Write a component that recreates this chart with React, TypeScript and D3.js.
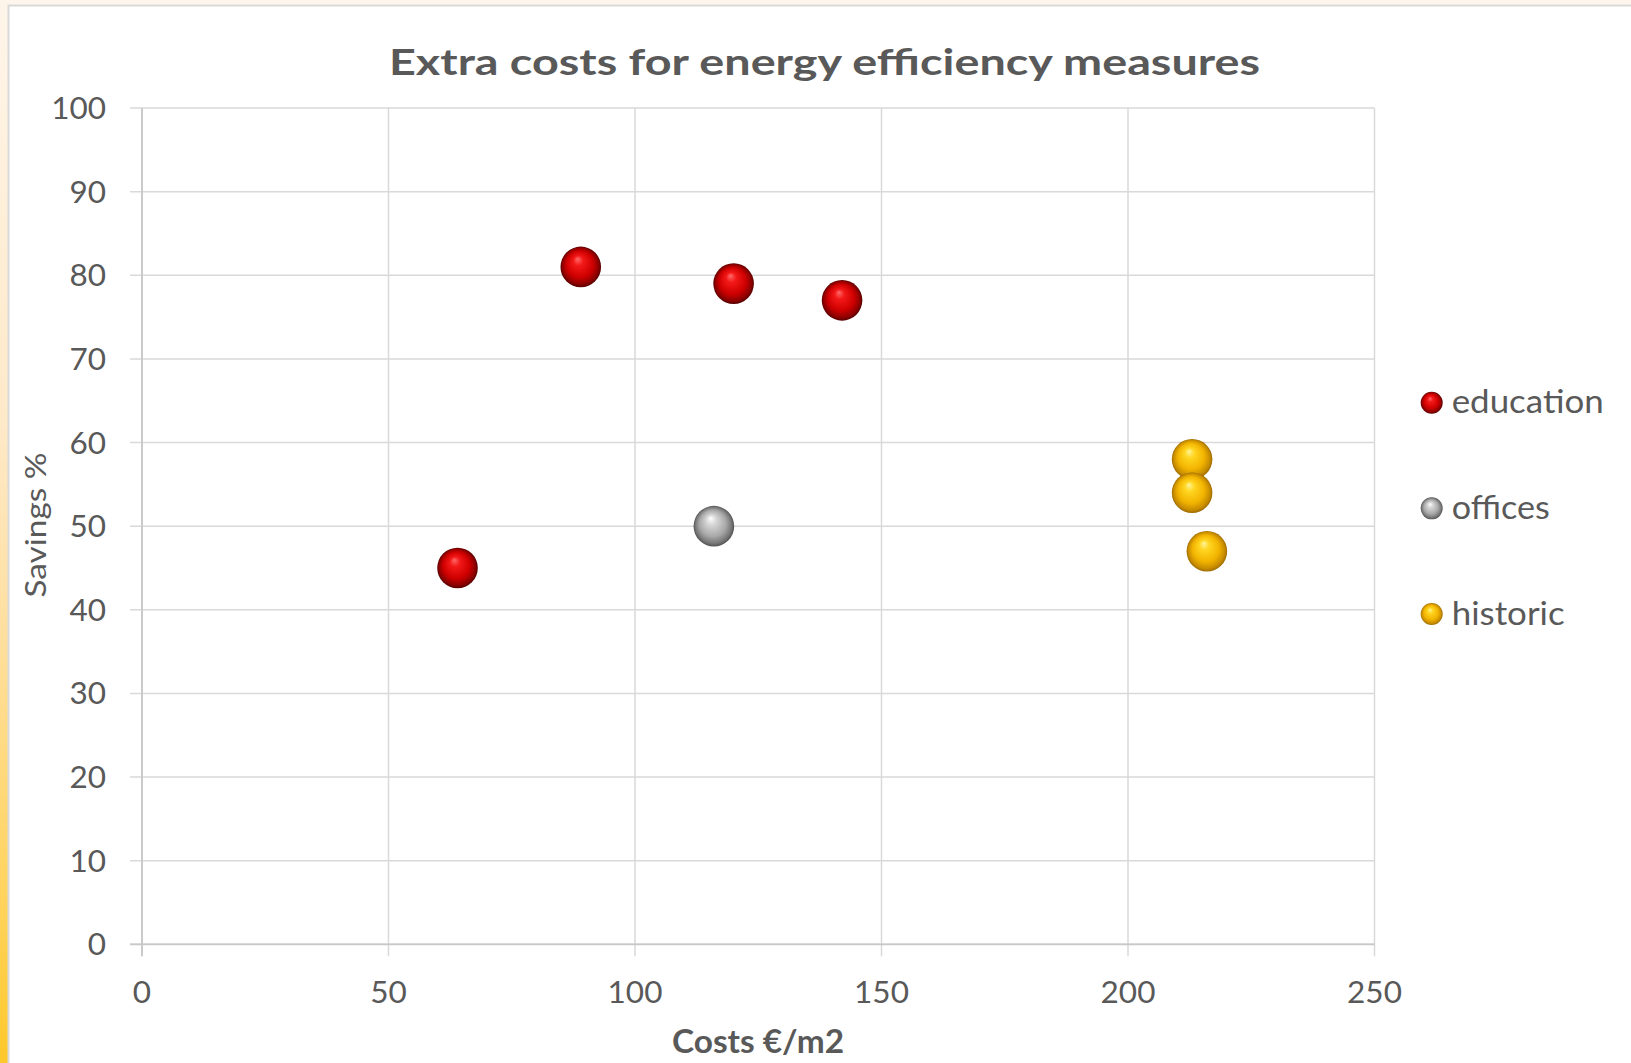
import React from "react";
import * as d3 from "d3";

// Series values: cost per square metre (€/m2) and energy savings (%)
const seriesNames = ["education", "offices", "historic"];
const educationCost = [64, 89, 120, 142];
const educationSavings = [45, 81, 79, 77];
const officesCost = [116];
const officesSavings = [50];
const historicCost = [213, 213, 216];
const historicSavings = [58, 54, 47];

const xTicks = [0, 50, 100, 150, 200, 250];
const yTicks = [0, 10, 20, 30, 40, 50, 60, 70, 80, 90, 100];

const chartTitle = "Extra costs for energy efficiency measures";
const xTitle = "Costs €/m2";
const yTitle = "Savings %";

const W = 1631;
const H = 1063;
const plot = { left: 142, right: 1374.5, top: 108, bottom: 944.3 };

const sphereColors: Record<string, string[]> = {
  education: ["#ff6a6a", "#f31818", "#cf0000", "#8a0000", "#580000"],
  offices: ["#ffffff", "#d6d6d6", "#a8a8a8", "#747474", "#525252"],
  historic: ["#fff59a", "#ffd520", "#f2b400", "#c68b00", "#9c6a00"],
};

const series = [
  { name: seriesNames[0], xs: educationCost, ys: educationSavings },
  { name: seriesNames[1], xs: officesCost, ys: officesSavings },
  { name: seriesNames[2], xs: historicCost, ys: historicSavings },
];

const legendWidths: Record<string, number> = { education: 152, offices: 98, historic: 113 };

export default function App() {
  const x = d3.scaleLinear().domain([0, 250]).range([plot.left, plot.right]);
  const y = d3.scaleLinear().domain([0, 100]).range([plot.bottom, plot.top]);
  const legendY = d3.scalePoint<string>().domain(seriesNames).range([402.7, 614]);
  const font = "Lato, 'Open Sans', sans-serif";
  const grid = "#d9d9d9";
  const text = "#595959";

  return (
    <svg
      width={W}
      height={H}
      style={{ position: "absolute", left: 0, top: 0, display: "block" }}
      fontFamily={font}
    >
      <defs>
        <linearGradient id="edgeGlow" x1="0" y1="0" x2="0" y2="1">
          <stop offset="0" stopColor="#fef5ea" />
          <stop offset="0.4" stopColor="#fee9c8" />
          <stop offset="0.6" stopColor="#ffdf9e" />
          <stop offset="0.85" stopColor="#ffd35c" />
          <stop offset="1" stopColor="#ffc82a" />
        </linearGradient>
        {seriesNames.map((n) => (
          <radialGradient key={n} id={`sphere-${n}`} cx="0.5" cy="0.5" r="0.5" fx="0.42" fy="0.3">
            <stop offset="0" stopColor={sphereColors[n][0]} />
            <stop offset="0.25" stopColor={sphereColors[n][1]} />
            <stop offset="0.65" stopColor={sphereColors[n][2]} />
            <stop offset="0.9" stopColor={sphereColors[n][3]} />
            <stop offset="1" stopColor={sphereColors[n][4]} />
          </radialGradient>
        ))}
      </defs>

      {/* page background and chart frame */}
      <rect x={0} y={0} width={W} height={H} fill="#ffffff" />
      <rect x={0} y={0} width={W} height={5} fill="#fef6ec" />
      <rect x={0} y={0} width={8} height={H} fill="url(#edgeGlow)" />
      <rect x={8.5} y={5.5} width={W + 10} height={H + 10} fill="#ffffff" stroke="#d9d9d9" strokeWidth={2} />

      {/* title */}
      <text
        x={824.5}
        y={75}
        textAnchor="middle"
        fontSize={37}
        fontWeight={700}
        fill={text}
        textLength={871}
        lengthAdjust="spacingAndGlyphs"
      >
        {chartTitle}
      </text>

      {/* gridlines */}
      {yTicks.map((t) => (
        <line key={`gy${t}`} x1={plot.left - 12} x2={plot.right} y1={y(t)} y2={y(t)} stroke={grid} strokeWidth={1.5} />
      ))}
      {xTicks.map((t) => (
        <line key={`gx${t}`} x1={x(t)} x2={x(t)} y1={plot.top} y2={plot.bottom + 12} stroke={grid} strokeWidth={1.5} />
      ))}
      <line x1={plot.left - 12} x2={plot.right} y1={y(0)} y2={y(0)} stroke="#c8c8c8" strokeWidth={1.8} />
      <line x1={x(0)} x2={x(0)} y1={plot.top} y2={plot.bottom + 12} stroke="#c8c8c8" strokeWidth={1.8} />

      {/* tick labels */}
      {yTicks.map((t) => (
        <text key={`ly${t}`} x={106} y={y(t) + 11} textAnchor="end" fontSize={31.5} fill={text}>
          {t}
        </text>
      ))}
      {xTicks.map((t) => (
        <text key={`lx${t}`} x={x(t)} y={1003} textAnchor="middle" fontSize={31.5} fill={text}>
          {t}
        </text>
      ))}

      {/* axis titles */}
      <text
        x={758}
        y={1053}
        textAnchor="middle"
        fontSize={33}
        fontWeight={700}
        fill={text}
        textLength={172}
        lengthAdjust="spacingAndGlyphs"
      >
        {xTitle}
      </text>
      <text
        transform="translate(46,525) rotate(-90)"
        textAnchor="middle"
        fontSize={28}
        fill={text}
        textLength={145}
        lengthAdjust="spacingAndGlyphs"
      >
        {yTitle}
      </text>

      {/* data spheres */}
      {series.map((s) =>
        s.xs.map((c, i) => (
          <circle
            key={`${s.name}${i}`}
            cx={x(c)}
            cy={y(s.ys[i])}
            r={20.3}
            fill={`url(#sphere-${s.name})`}
          />
        ))
      )}

      {/* legend */}
      {seriesNames.map((n) => (
        <g key={`lg${n}`}>
          <circle cx={1431.7} cy={legendY(n)} r={11} fill={`url(#sphere-${n})`} />
          <text
            x={1451.7}
            y={(legendY(n) as number) + 10.6}
            fontSize={32}
            fill={text}
            textLength={legendWidths[n]}
            lengthAdjust="spacingAndGlyphs"
          >
            {n}
          </text>
        </g>
      ))}
    </svg>
  );
}
